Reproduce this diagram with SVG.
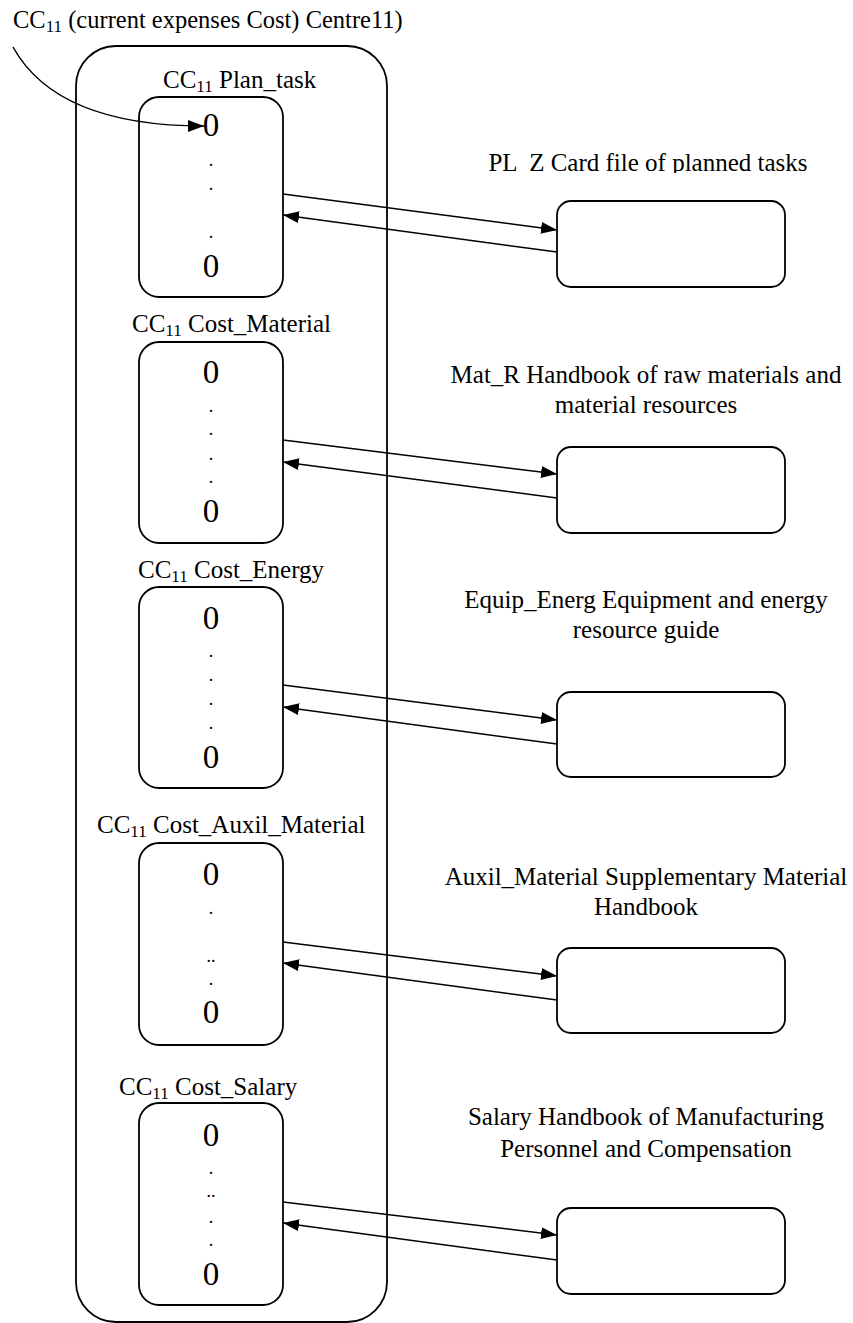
<svg xmlns="http://www.w3.org/2000/svg" width="853" height="1323" viewBox="0 0 853 1323">
<style>
text{font-family:"Liberation Serif","Times New Roman",serif;fill:#000}
.lbl{font-size:25px}
.ttl{font-size:24.5px}
.sub{font-size:17px}
.zero{font-size:33px;text-anchor:middle}
.dot{font-size:18px;text-anchor:middle}
.rt{font-size:25px;text-anchor:middle}
.box{fill:#fff;stroke:#000;stroke-width:1.8}
.edge{fill:none;stroke:#000;stroke-width:1.5}
</style>
<defs>
<marker id="ah" markerUnits="userSpaceOnUse" markerWidth="17" markerHeight="13" refX="16" refY="6" orient="auto">
<path d="M0,0 L16,6 L0,12 z" fill="#000"/>
</marker>
<clipPath id="clipPL"><rect x="400" y="140" width="453" height="33"/></clipPath>
</defs>

<text x="13" y="28" class="ttl">CC<tspan class="sub" dy="4">11</tspan><tspan dy="-4"> (current expenses Cost) Centre11)</tspan></text>

<g id="container">
<rect x="76" y="46" width="311" height="1276" rx="40" ry="40" class="box"/>
</g>

<g id="plan_task">
<text x="163" y="88" class="lbl">CC<tspan class="sub" dy="4">11</tspan><tspan dy="-4"> Plan_task</tspan></text>
<rect x="139" y="97" width="144" height="200" rx="20" ry="20" class="box"/>
<text x="211" y="136" class="zero">0</text>
<text x="211" y="166" class="dot">.</text>
<text x="211" y="190" class="dot">.</text>
<text x="211" y="238" class="dot">.</text>
<text x="211" y="277" class="zero">0</text>
</g>

<g id="cost_material">
<text x="132" y="332" class="lbl">CC<tspan class="sub" dy="4">11</tspan><tspan dy="-4"> Cost_Material</tspan></text>
<rect x="139" y="342" width="144" height="201" rx="20" ry="20" class="box"/>
<text x="211" y="383" class="zero">0</text>
<text x="211" y="412" class="dot">.</text>
<text x="211" y="435" class="dot">.</text>
<text x="211" y="460" class="dot">.</text>
<text x="211" y="483" class="dot">.</text>
<text x="211" y="522" class="zero">0</text>
</g>

<g id="cost_energy">
<text x="138" y="578" class="lbl">CC<tspan class="sub" dy="4">11</tspan><tspan dy="-4"> Cost_Energy</tspan></text>
<rect x="139" y="587" width="144" height="201" rx="20" ry="20" class="box"/>
<text x="211" y="629" class="zero">0</text>
<text x="211" y="657" class="dot">.</text>
<text x="211" y="681" class="dot">.</text>
<text x="211" y="705" class="dot">.</text>
<text x="211" y="729" class="dot">.</text>
<text x="211" y="768" class="zero">0</text>
</g>

<g id="cost_auxil_material">
<text x="97" y="833" class="lbl">CC<tspan class="sub" dy="4">11</tspan><tspan dy="-4"> Cost_Auxil_Material</tspan></text>
<rect x="139" y="843" width="144" height="202" rx="20" ry="20" class="box"/>
<text x="211" y="885" class="zero">0</text>
<text x="211" y="914" class="dot">.</text>
<text x="211" y="962" class="dot">..</text>
<text x="211" y="985" class="dot">.</text>
<text x="211" y="1023" class="zero">0</text>
</g>

<g id="cost_salary">
<text x="119" y="1095" class="lbl">CC<tspan class="sub" dy="4">11</tspan><tspan dy="-4"> Cost_Salary</tspan></text>
<rect x="139" y="1103" width="144" height="202" rx="20" ry="20" class="box"/>
<text x="211" y="1146" class="zero">0</text>
<text x="211" y="1174" class="dot">.</text>
<text x="211" y="1197" class="dot">..</text>
<text x="211" y="1223" class="dot">.</text>
<text x="211" y="1246" class="dot">.</text>
<text x="211" y="1285" class="zero">0</text>
</g>

<g id="pl_z">
<text x="648" y="171" class="rt" clip-path="url(#clipPL)" style="white-space:pre">PL  Z Card file of planned tasks</text>
<rect x="557" y="201" width="228" height="86" rx="14" ry="14" class="box"/>
</g>

<g id="mat_r">
<text x="646" y="383" class="rt">Mat_R Handbook of raw materials and</text>
<text x="646" y="413" class="rt">material resources</text>
<rect x="557" y="447" width="228" height="86" rx="14" ry="14" class="box"/>
</g>

<g id="equip_energ">
<text x="646" y="608" class="rt">Equip_Energ Equipment and energy</text>
<text x="646" y="638" class="rt">resource guide</text>
<rect x="557" y="692" width="228" height="85" rx="14" ry="14" class="box"/>
</g>

<g id="auxil_material">
<text x="646" y="885" class="rt">Auxil_Material Supplementary Material</text>
<text x="646" y="915" class="rt">Handbook</text>
<rect x="557" y="948" width="228" height="85" rx="14" ry="14" class="box"/>
</g>

<g id="salary">
<text x="646" y="1125" class="rt">Salary Handbook of Manufacturing</text>
<text x="646" y="1157" class="rt">Personnel and Compensation</text>
<rect x="557" y="1208" width="228" height="86" rx="14" ry="14" class="box"/>
</g>

<g id="connectors">
<path class="edge" d="M13,47 C45,105 115,126 204,126" marker-end="url(#ah)"/>
<path class="edge" d="M283,194 L557,230" marker-end="url(#ah)"/>
<path class="edge" d="M557,252 L283,215" marker-end="url(#ah)"/>
<path class="edge" d="M283,440 L557,474" marker-end="url(#ah)"/>
<path class="edge" d="M557,498 L283,462" marker-end="url(#ah)"/>
<path class="edge" d="M283,685 L557,720" marker-end="url(#ah)"/>
<path class="edge" d="M557,744 L283,707" marker-end="url(#ah)"/>
<path class="edge" d="M283,942 L557,976" marker-end="url(#ah)"/>
<path class="edge" d="M557,1000 L283,963" marker-end="url(#ah)"/>
<path class="edge" d="M283,1202 L557,1235" marker-end="url(#ah)"/>
<path class="edge" d="M557,1260 L283,1223" marker-end="url(#ah)"/>
</g>
</svg>
